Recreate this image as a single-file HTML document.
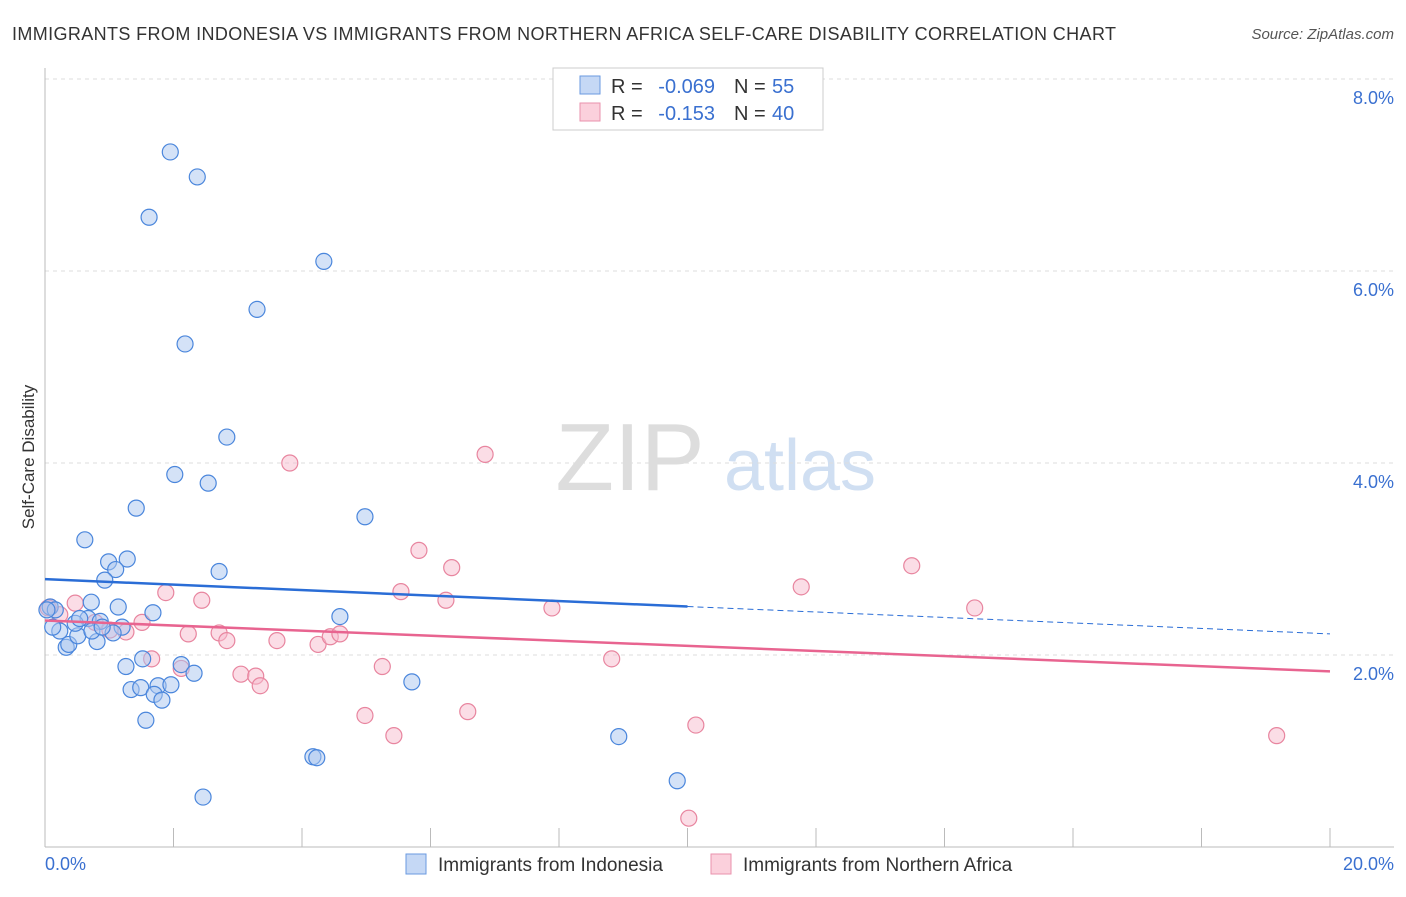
<!DOCTYPE html>
<html><head><meta charset="utf-8"><style>
body{margin:0;background:#fff;font-family:"Liberation Sans",sans-serif}
svg text{font-family:"Liberation Sans",sans-serif}
</style></head><body>
<svg width="1406" height="892">
<text x="12" y="40" font-size="18" fill="#333" textLength="1104">IMMIGRANTS FROM INDONESIA VS IMMIGRANTS FROM NORTHERN AFRICA SELF-CARE DISABILITY CORRELATION CHART</text>
<text x="1394" y="39" font-size="15" fill="#555" text-anchor="end" font-style="italic">Source: ZipAtlas.com</text>
<text x="630" y="490" font-size="96" fill="#ddd" font-family="Liberation Serif" text-anchor="middle">ZIP</text>
<text x="800" y="490" font-size="72" fill="#d0dff2" text-anchor="middle">atlas</text>
<g id="grid"></g><g id="marks"></g>
<text x="34" y="457" font-size="17" fill="#333" transform="rotate(-90 34 457)" text-anchor="middle">Self-Care Disability</text>
<text x="45" y="870" font-size="18" fill="#3a70d0">0.0%</text>
<text x="1394" y="870" font-size="18" fill="#3a70d0" text-anchor="end">20.0%</text>
<g>
<rect x="553" y="68" width="270" height="62" fill="#fff" stroke="#ccc"/>
<rect x="580" y="76" width="20" height="18" fill="#c5d8f5" stroke="#6a9ae0"/>
<rect x="580" y="103" width="20" height="18" fill="#fbd0dc" stroke="#ea92ad"/>
<text x="611" y="93" font-size="20" fill="#333">R =</text>
<text x="715" y="93" font-size="20" fill="#3a70d0" text-anchor="end">-0.069</text>
<text x="734" y="93" font-size="20" fill="#333">N =</text>
<text x="772" y="93" font-size="20" fill="#3a70d0">55</text>
<text x="611" y="120" font-size="20" fill="#333">R =</text>
<text x="715" y="120" font-size="20" fill="#3a70d0" text-anchor="end">-0.153</text>
<text x="734" y="120" font-size="20" fill="#333">N =</text>
<text x="772" y="120" font-size="20" fill="#3a70d0">40</text>
</g>
<g>
<rect x="406" y="854" width="20" height="20" fill="#c5d8f5" stroke="#6a9ae0"/>
<text x="438" y="871" font-size="19" fill="#333">Immigrants from Indonesia</text>
<rect x="711" y="854" width="20" height="20" fill="#fbd0dc" stroke="#ea92ad"/>
<text x="743" y="871" font-size="19" fill="#333">Immigrants from Northern Africa</text>
</g>
</svg>
<script>
const yTicks=[2,4,6,8];
const xTickVals=[0,2,4,6,8,10,12,14,16,18,20];
const blueX=[1.95,2.37,1.62,4.34,3.30,2.18,2.83,2.02,2.54,1.42,4.98,0.62,1.28,0.99,1.10,2.71,0.93,0.72,1.14,1.68,4.59,0.08,0.16,0.23,0.33,0.37,0.67,0.86,1.20,0.51,0.81,1.06,0.73,0.89,0.03,0.12,1.52,2.12,1.26,2.32,5.71,1.34,1.49,1.76,1.70,1.96,1.82,1.57,4.17,4.23,8.93,9.84,2.46,0.47,0.54];
const blueY=[7.24,6.98,6.56,6.10,5.60,5.24,4.27,3.88,3.79,3.53,3.44,3.20,3.00,2.97,2.89,2.87,2.78,2.55,2.50,2.44,2.40,2.50,2.47,2.25,2.08,2.11,2.38,2.35,2.29,2.20,2.14,2.23,2.25,2.29,2.47,2.29,1.96,1.90,1.88,1.81,1.72,1.64,1.66,1.68,1.59,1.69,1.53,1.32,0.94,0.93,1.15,0.69,0.52,2.33,2.38];
const pinkX=[3.81,6.85,5.82,6.33,5.54,1.88,2.44,6.24,7.89,11.77,13.49,14.47,0.47,0.08,0.23,1.51,1.26,2.23,2.71,2.83,3.61,4.25,4.44,4.59,1.66,2.12,5.25,8.82,3.05,3.28,3.35,4.98,6.58,5.43,10.13,19.17,10.02,0.78,1.01,0.05];
const pinkY=[4.00,4.09,3.09,2.91,2.66,2.65,2.57,2.57,2.49,2.71,2.93,2.49,2.54,2.50,2.42,2.34,2.24,2.22,2.23,2.15,2.15,2.11,2.19,2.22,1.96,1.86,1.88,1.96,1.80,1.78,1.68,1.37,1.41,1.16,1.27,1.16,0.30,2.34,2.26,2.49];
const blueTrend=[2.79,-0.0285];
const pinkTrend=[2.36,-0.0265];
const X=v=>45+v/20*1285, Y=v=>847-v*96;
const NS='http://www.w3.org/2000/svg';
const gridG=document.getElementById('grid'),marksG=document.getElementById('marks');
function el(t,a,p){const e=document.createElementNS(NS,t);for(const k in a)e.setAttribute(k,a[k]);p.appendChild(e);return e;}
yTicks.forEach(t=>{
const l=el('line',{x1:45,x2:1394,y1:Y(t),y2:Y(t),stroke:'#ddd','stroke-dasharray':'4,4'},gridG);


const tx=el('text',{x:1394,y:Y(t)+25,'font-size':18,fill:'#3a70d0','text-anchor':'end'},gridG);
tx.textContent=t.toFixed(1)+'%';


});
const topLine=el('line',{x1:45,x2:1394,y1:79,y2:79,stroke:'#ddd','stroke-dasharray':'4,4'},gridG);


const axX=el('line',{x1:45,x2:1394,y1:847,y2:847,stroke:'#bbb'},gridG);


const axY=el('line',{x1:45,x2:45,y1:68,y2:847,stroke:'#bbb'},gridG);


xTickVals.forEach(t=>{
const l=el('line',{x1:X(t),x2:X(t),y1:828,y2:847,stroke:'#bbb'},gridG);


});
function dots(xs,ys,fill,stroke,name){xs.forEach((x,i)=>{
const c=el('circle',{cx:X(x),cy:Y(ys[i]),r:8,fill:fill,'fill-opacity':0.5,stroke:stroke,'stroke-width':1.2},marksG);


});}
dots(pinkX,pinkY,'#f8bccd','#e8859f','pink-point');
dots(blueX,blueY,'#a9c6f0','#4a86dc','blue-point');
const bl=el('line',{x1:X(0),y1:Y(blueTrend[0]),x2:X(10),y2:Y(blueTrend[0]+blueTrend[1]*10),stroke:'#2a6dd6','stroke-width':2.5},marksG);


const bd=el('line',{x1:X(10),y1:Y(blueTrend[0]+blueTrend[1]*10),x2:X(20),y2:Y(blueTrend[0]+blueTrend[1]*20),stroke:'#2a6dd6','stroke-width':1,'stroke-dasharray':'6,4'},marksG);


const pl=el('line',{x1:X(0),y1:Y(pinkTrend[0]),x2:X(20),y2:Y(pinkTrend[0]+pinkTrend[1]*20),stroke:'#e86490','stroke-width':2.5},marksG);


</script>
</body></html>
